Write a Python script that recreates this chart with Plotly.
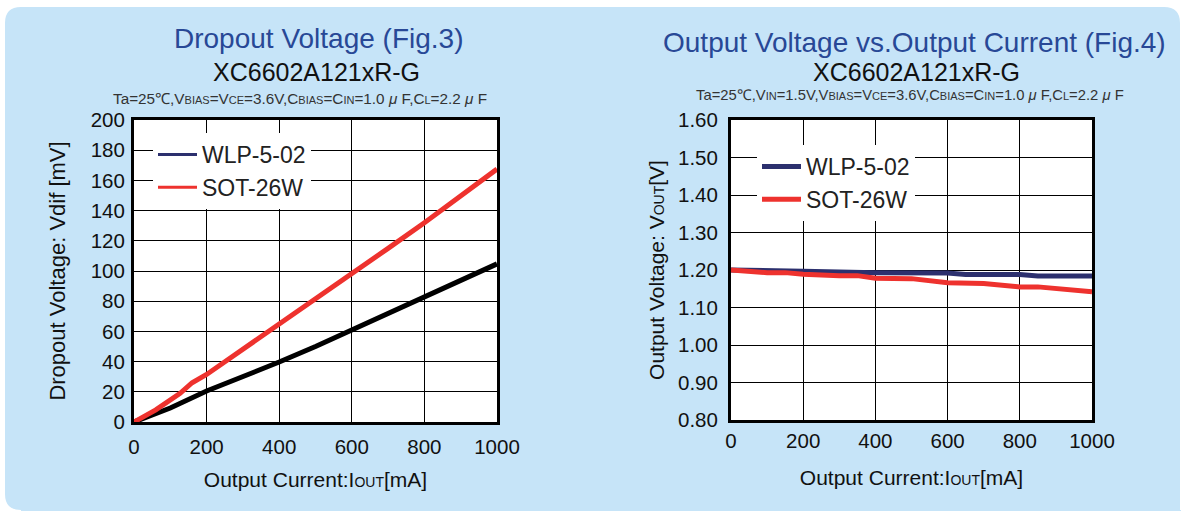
import plotly.graph_objects as go

W, H = 1181, 511

# ---------------- data ----------------
# Fig.3 Dropout voltage
fig3_wlp_iout = [0, 100, 200, 300, 400, 500, 600, 700, 800, 900, 1000]
fig3_wlp_vdif = [0, 9.3, 20.5, 30, 39.7, 50, 61, 72, 83, 94, 104.7]
fig3_sot_iout = [0, 60, 127, 160, 200, 300, 400, 500, 600, 700, 800, 900, 1000]
fig3_sot_vdif = [0, 8, 19, 26, 31.5, 48, 65, 82, 98.5, 115, 132, 150, 167.5]

# Fig.4 Output voltage vs output current
fig4_wlp_iout = [0, 150, 200, 400, 600, 650, 800, 850, 1000]
fig4_wlp_vout = [1.200, 1.200, 1.197, 1.193, 1.192, 1.188, 1.188, 1.184, 1.184]
fig4_sot_iout = [0, 100, 150, 200, 300, 350, 400, 500, 600, 700, 800, 850, 1000]
fig4_sot_vout = [1.200, 1.193, 1.193, 1.189, 1.185, 1.185, 1.178, 1.177, 1.166, 1.164, 1.155, 1.155, 1.142]

x_ticks = [0, 200, 400, 600, 800, 1000]
fig3_y_ticks = [0, 20, 40, 60, 80, 100, 120, 140, 160, 180, 200]
fig4_y_ticks = [0.80, 0.90, 1.00, 1.10, 1.20, 1.30, 1.40, 1.50, 1.60]
fig4_y_labels = ["%.2f" % v for v in fig4_y_ticks]

series_names = ["WLP-5-02", "SOT-26W"]

# ---------------- style ----------------
FONT = "Liberation Sans, Arial, Helvetica, sans-serif"
PANEL = "rgb(198,228,248)"
NAVY = "rgb(44,48,110)"
RED = "rgb(238,50,46)"
BLACK = "rgb(0,0,0)"
TITLE_BLUE = "rgb(40,72,150)"


def px(x):
    return x / W


def py(y):
    return 1 - y / H


def panel_path(x0, y0, x1, y1, r):
    # rounded top-left, top-right, bottom-left; square bottom-right
    rx, ry = r / W, r / H
    X0, X1 = px(x0), px(x1)
    Y0, Y1 = py(y0), py(y1)  # Y0 top (larger), Y1 bottom
    return (f"M{X0+rx},{Y0} L{X1-rx},{Y0} Q{X1},{Y0} {X1},{Y0-ry} "
            f"L{X1},{Y1} L{px(W + 5)},{Y1} L{px(W + 5)},{py(H + 5)} "
            f"L{X0+rx},{py(H + 5)} L{X0+rx},{Y1} Q{X0},{Y1} {X0},{Y1+ry} "
            f"L{X0},{Y0-ry} Q{X0},{Y0} {X0+rx},{Y0} Z")


# plot areas in pixels
L_AREA = (134, 120, 497, 422)
R_AREA = (731, 120, 1092, 420)

fig = go.Figure()

# Fig.3 traces
fig.add_trace(go.Scatter(x=fig3_wlp_iout, y=fig3_wlp_vdif, mode="lines",
                         line=dict(color=BLACK, width=5), showlegend=False,
                         xaxis="x", yaxis="y"))
fig.add_trace(go.Scatter(x=fig3_sot_iout, y=fig3_sot_vdif, mode="lines",
                         line=dict(color=RED, width=5), showlegend=False,
                         xaxis="x", yaxis="y"))
# legend-only entries (Fig.3)
for name, col in [(series_names[0], NAVY), (series_names[1], RED)]:
    fig.add_trace(go.Scatter(x=[None], y=[None], mode="lines", name=name,
                             line=dict(color=col, width=3), legend="legend",
                             xaxis="x", yaxis="y"))

# Fig.4 traces
fig.add_trace(go.Scatter(x=fig4_wlp_iout, y=fig4_wlp_vout, mode="lines",
                         line=dict(color=NAVY, width=5), name=series_names[0],
                         legend="legend2", xaxis="x2", yaxis="y2"))
fig.add_trace(go.Scatter(x=fig4_sot_iout, y=fig4_sot_vout, mode="lines",
                         line=dict(color=RED, width=5), name=series_names[1],
                         legend="legend2", xaxis="x2", yaxis="y2"))

axis_common = dict(showline=True, mirror=True, linecolor="black", linewidth=3,
                   showgrid=True, gridcolor="black", gridwidth=1.3,
                   zeroline=False, ticks="", automargin=False,
                   tickfont=dict(family=FONT, size=20.5, color="#111"),
                   title_font=dict(family=FONT, size=21, color="#111"))

sub = "<span style='font-size:14px'>%s</span>"
xtitle = "Output Current:I" + sub % "OUT" + "[mA]"

legend_common = dict(xanchor="left", yanchor="top", bgcolor="white", borderwidth=0,
                     itemwidth=39, font=dict(family=FONT, size=23, color="#222"))

fig.update_layout(
    width=W, height=H,
    margin=dict(l=0, r=0, t=0, b=0, autoexpand=False),
    paper_bgcolor="white",
    plot_bgcolor="rgba(0,0,0,0)",
    font=dict(family=FONT, color="#111"),
    xaxis=dict(domain=[px(L_AREA[0]), px(L_AREA[2])], range=[0, 1000],
               tickvals=x_ticks, anchor="y",
               title=dict(text=xtitle, standoff=16), ticklabelstandoff=4, **axis_common),
    yaxis=dict(domain=[py(L_AREA[3]), py(L_AREA[1])], range=[0, 200],
               tickvals=fig3_y_ticks, anchor="x",
               title=dict(text="Dropout Voltage: Vdif [mV]", standoff=19,
                          font=dict(family=FONT, size=22, color="#111")),
               ticklabelstandoff=2, **{k: v for k, v in axis_common.items() if k != "title_font"}),
    xaxis2=dict(domain=[px(R_AREA[0]), px(R_AREA[2])], range=[0, 1000],
                tickvals=x_ticks, anchor="y2",
                title=dict(text=xtitle, standoff=20), ticklabelstandoff=0, **axis_common),
    yaxis2=dict(domain=[py(R_AREA[3]), py(R_AREA[1])], range=[0.80, 1.60],
                tickvals=fig4_y_ticks, ticktext=fig4_y_labels, anchor="x2",
                title=dict(text="Output Voltage: V" + sub % "OUT" + "[V]", standoff=8),
                ticklabelstandoff=6, **axis_common),
    legend=dict(x=px(153), y=py(133), **legend_common),
    legend2=dict(x=px(757), y=py(145), **legend_common),
    shapes=[
        dict(type="path", xref="paper", yref="paper", layer="below",
             path=panel_path(5, 7, 1180, 510, 16),
             fillcolor=PANEL, line=dict(width=0)),
        dict(type="rect", xref="paper", yref="paper", layer="below",
             x0=px(L_AREA[0]), x1=px(L_AREA[2]), y0=py(L_AREA[3]), y1=py(L_AREA[1]),
             fillcolor="white", line=dict(width=0)),
        dict(type="rect", xref="paper", yref="paper", layer="below",
             x0=px(R_AREA[0]), x1=px(R_AREA[2]), y0=py(R_AREA[3]), y1=py(R_AREA[1]),
             fillcolor="white", line=dict(width=0)),
    ],
)

s = "<span style='font-size:11px'>%s</span>"
mu = " <i>μ</i> F"
cond3 = ("Ta=25℃,V" + s % "BIAS" + "=V" + s % "CE" + "=3.6V,C" + s % "BIAS" + "=C" + s % "IN"
         + "=1.0" + mu + ",C" + s % "L" + "=2.2" + mu)
cond4 = ("Ta=25℃,V" + s % "IN" + "=1.5V,V" + s % "BIAS" + "=V" + s % "CE" + "=3.6V,C" + s % "BIAS"
         + "=C" + s % "IN" + "=1.0" + mu + ",C" + s % "L" + "=2.2" + mu)

annos = [
    (319, 38, "Dropout Voltage (Fig.3)", 28, TITLE_BLUE),
    (316, 72, "XC6602A121xR-G", 25, "#111"),
    (300, 98, cond3, 15.3, "#333"),
    (915, 42, "Output Voltage vs.Output Current (Fig.4)", 28, TITLE_BLUE),
    (916, 72, "XC6602A121xR-G", 25, "#111"),
    (910, 95, cond4, 14.8, "#333"),
]
for x, y, t, sz, c in annos:
    fig.add_annotation(x=px(x), y=py(y), xref="paper", yref="paper", text=t,
                       showarrow=False, xanchor="center", yanchor="middle",
                       font=dict(family=FONT, size=sz, color=c))

fig.write_html("out.html", config={"displayModeBar": False},
               post_script="document.body.style.margin='0px';")
